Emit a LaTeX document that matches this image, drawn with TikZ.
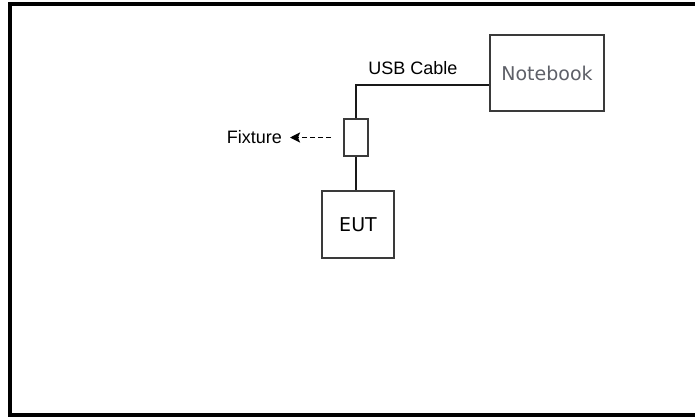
\documentclass[tikz,border=0pt]{standalone}
\usepackage{fontspec}
\usetikzlibrary{positioning, arrows.meta}
\newfontfamily\labelfont{Liberation Sans}
\newfontfamily\boxfont{DejaVu Sans}
\definecolor{edgecolor}{HTML}{3A3A3A}
\definecolor{nbtext}{HTML}{5E6068}

\begin{document}
\begin{tikzpicture}[x=1pt, y=-1pt,
    unit/.style={rectangle, draw=edgecolor, fill=white, line width=1.8pt, inner sep=0pt, font=\boxfont\fontsize{19}{22}\selectfont},
    cable/.style={line width=1.8pt, black!90},
    lbl/.style={font=\labelfont\fontsize{18}{20}\selectfont, text=black, inner sep=0pt},
    pointer/.style={-{Stealth[length=10pt, width=10pt, inset=2pt]}, line width=1.8pt, dash pattern=on 5pt off 3pt},
  ]
    \useasboundingbox (0,0) rectangle (695,418);
    % outer frame, right side runs off the page
    \draw[line width=4pt] (695,4) -- (10,4) -- (10,415) -- (695,415);

    \node[unit, minimum width=114pt, minimum height=76pt, text=nbtext] (notebook) at (547,73) {Notebook};
    \node[unit, minimum width=72pt, minimum height=67pt, text=black] (eut) at (358,224.5) {EUT};
    \node[unit, minimum width=24pt, minimum height=37pt] (fixture) at (356,137.5) {};
    \coordinate (bend) at (356,85);

    \draw[cable] (notebook.west |- bend) -- (bend) -- (fixture.north);
    \draw[cable] (fixture.south) -- (fixture.south |- eut.north);

    \node[lbl] (usb) at (413,68) {USB Cable};
    \coordinate (tail) at (331,137.5);
    \coordinate (tip) at (290,137.5);
    \node[lbl, left=8pt of tip] (fixlbl) {Fixture};
    \draw[pointer] (tail) -- (tip);
  \end{tikzpicture}
\end{document}
